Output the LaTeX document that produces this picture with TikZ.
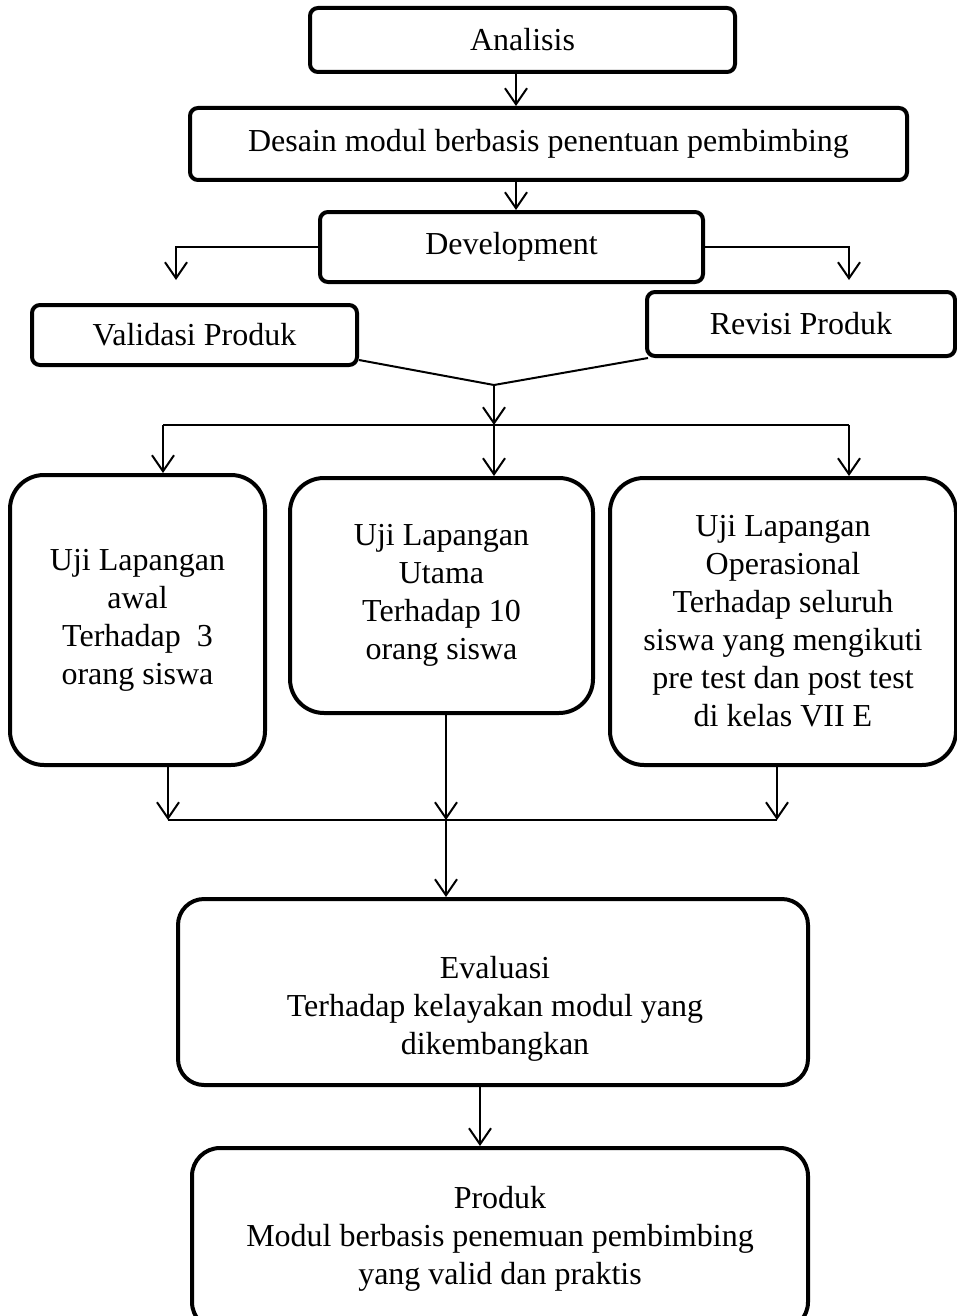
\documentclass[tikz,border=0pt]{standalone}
\usepackage{fontspec}
\setmainfont{Liberation Serif}
\usetikzlibrary{arrows.meta,calc}

\begin{document}
\begin{tikzpicture}[x=1pt, y=-1pt,
  box/.style={draw, rectangle, rounded corners=8pt, line width=4pt, align=center,
              font=\fontsize{32}{38}\selectfont},
  bigbox/.style={box, rounded corners=34pt},
  line/.style={line width=2pt},
  arr/.style={line, -{Straight Barb[length=16pt, width=22pt]}}]

\useasboundingbox (0, 0) rectangle (957, 1316);

% Top chain
\node[box, minimum width=425pt, minimum height=64pt] (anal) at (522.5, 40) {Analisis};
\node[box, minimum width=717pt, minimum height=72pt] (desain) at (548.5, 144) {Desain modul berbasis penentuan pembimbing};
\node[box, minimum width=383pt, minimum height=70pt] (dev) at (511.5, 247) {Development};

\draw[arr] ([xshift=-6.5pt]anal.south) -- ([xshift=-32.5pt]desain.north);
\draw[arr] ([xshift=-32.5pt]desain.south) -- ([xshift=4.5pt]dev.north);

% Validation and revision
\node[box, minimum width=325pt, minimum height=60pt] (valid) at (194.5, 335) {Validasi Produk};
\node[box, minimum width=308pt, minimum height=64pt] (revisi) at (801, 324) {Revisi Produk};

\coordinate (vtip) at (176, 280);
\coordinate (rtip) at (849, 280);
\draw[arr] (dev.west) -| (vtip);
\draw[arr] (dev.east) -| (rtip);

% Join and split
\coordinate (merge) at (494, 385);
\coordinate (split) at (494, 425);
\coordinate (sl) at (163, 425);
\coordinate (sr) at (849, 425);
\draw[line] ([yshift=7pt]valid.south east) -- (merge) -- ([xshift=3pt]revisi.south west);
\draw[arr] (merge) -- (split);
\draw[line] (sl) -- (sr);

% Field trials
\node[bigbox, minimum width=255pt, minimum height=290pt] (uji1) at (137.5, 620)
  {Uji Lapangan\\awal\\Terhadap\ \ 3\\orang siswa};
\node[bigbox, minimum width=303pt, minimum height=235pt] (uji2) at (441.5, 595.5)
  {Uji Lapangan\\Utama\\Terhadap 10\\orang siswa};
\node[bigbox, minimum width=346pt, minimum height=287pt] (uji3) at (783, 621.5)
  {Uji Lapangan\\Operasional\\Terhadap seluruh\\siswa yang mengikuti\\pre test dan post test\\di kelas VII E};

\draw[arr] (sl) -- (sl |- uji1.north);
\draw[arr] (split) -- (split |- uji2.north);
\draw[arr] (sr) -- (sr |- uji3.north);

% Collect results
\coordinate (m1) at (168, 820);
\coordinate (m2) at (446, 820);
\coordinate (m3) at (777, 820);
\draw[arr] (m1 |- uji1.south) -- (m1);
\draw[arr] (m2 |- uji2.south) -- (m2);
\draw[arr] (m3 |- uji3.south) -- (m3);
\draw[line] (m1) -- (m3);

% Evaluation
\node[box, rounded corners=26pt, minimum width=630pt, minimum height=186pt] (eval) at (493, 992) {};
\node[align=center, font=\fontsize{32}{38}\selectfont] (evaltext) at (495, 1009)
  {Evaluasi\\Terhadap kelayakan modul yang\\dikembangkan};
\draw[arr] (m2) -- (m2 |- eval.north);

% Product
\node[box, rounded corners=28pt, minimum width=616pt, minimum height=182pt] (produk) at (500, 1239)
  {Produk\\Modul berbasis penemuan pembimbing\\yang valid dan praktis};
\coordinate (e2p) at (480, 1085);
\draw[arr] (e2p) -- (e2p |- produk.north);

\end{tikzpicture}
\end{document}
